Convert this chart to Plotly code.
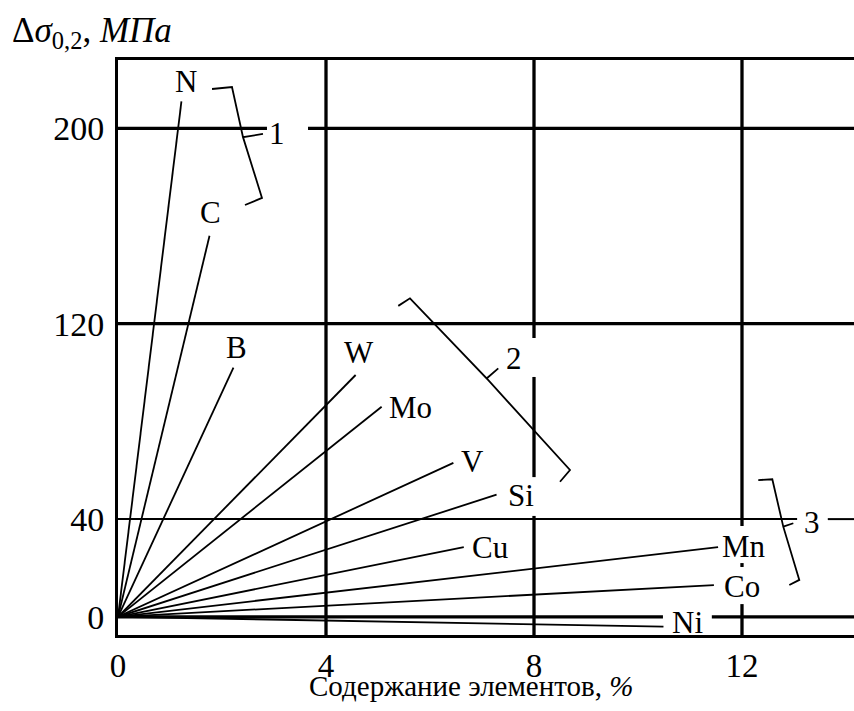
import plotly.graph_objects as go

# ---- data ----
elements = ["N", "C", "B", "W", "Mo", "V", "Si", "Cu", "Mn", "Co", "Ni"]
content_end = [1.22, 1.76, 2.22, 4.57, 5.07, 6.45, 7.28, 6.65, 11.54, 11.46, 10.49]   # %
strength_end = [211, 156, 102, 99, 86, 63, 50, 28.5, 28.5, 13, -4]                    # MPa

x_ticks = [0, 4, 8, 12]
y_ticks = [0, 40, 120, 200]
group_labels = ["1", "2", "3"]

# ---- layout helpers (positions in data units) ----
label_pos = {
    "N": (1.31, 219.0), "C": (1.77, 165.7), "B": (2.27, 110.1), "W": (4.64, 108.1),
    "Mo": (5.62, 85.7), "V": (6.81, 63.4), "Si": (7.75, 49.8), "Cu": (7.15, 28.2),
    "Mn": (12.04, 28.6), "Co": (12.0, 12.6), "Ni": (10.96, -2.5),
}
group_pos = [(3.06, 197.7), (7.62, 105.6), (13.35, 38.8)]
brackets = [
    ([1.808, 2.192, 2.404, 2.788, 2.404, 2.769, 2.442],
     [216.1, 216.9, 196.4, 197.7, 196.4, 171.5, 168.6]),
    ([5.390, 5.615, 7.090, 7.313, 7.090, 8.692, 8.500],
     [127.3, 130.4, 97.6, 101.7, 97.6, 60.1, 55.3]),
    ([12.313, 12.583, 12.794, 12.987, 12.794, 13.102, 12.910],
     [56.0, 56.3, 36.9, 38.3, 36.9, 15.1, 13.0]),
]

XMAX = 14.154
YMIN, YMAX = -7.45, 227.97

# gridline segments (with the gaps left for labels)
h_grid = [  # (y, x0, x1, width)
    (200, 0, 2.865, 3.3), (200, 3.654, XMAX, 3.3),
    (120, 0, XMAX, 3.3),
    (40, 0, 13.06, 2.0), (40, 13.65, XMAX, 2.0),
    (0, 0, 10.48, 3.3), (0, 11.42, XMAX, 3.3),
]
v_grid = [  # (x, y0, y1, width)
    (4, YMIN, YMAX, 3.3),
    (8, 114.2, YMAX, 3.3), (8, 57.2, 98.2, 3.3), (8, YMIN, 41.3, 3.3),
    (12, 37.2, YMAX, 3.3), (12, 20.4, 22.0, 3.3), (12, YMIN, 5.2, 3.3),
]

FONT = "Liberation Serif, Times New Roman, serif"

fig = go.Figure()

for (y, x0, x1, w) in h_grid:
    fig.add_trace(go.Scatter(x=[x0, x1], y=[y, y], mode="lines",
                             line=dict(color="black", width=w), hoverinfo="skip", showlegend=False))
for (x, y0, y1, w) in v_grid:
    fig.add_trace(go.Scatter(x=[x, x], y=[y0, y1], mode="lines",
                             line=dict(color="black", width=w), hoverinfo="skip", showlegend=False))

for name, xe, ye in zip(elements, content_end, strength_end):
    fig.add_trace(go.Scatter(x=[0, xe], y=[0, ye], mode="lines", name=name,
                             line=dict(color="black", width=1.8), showlegend=False))

for bx, by in brackets:
    fig.add_trace(go.Scatter(x=bx, y=by, mode="lines",
                             line=dict(color="black", width=1.8), hoverinfo="skip", showlegend=False))

annotations = []
for name in elements:
    lx, ly = label_pos[name]
    annotations.append(dict(x=lx, y=ly, text=name, showarrow=False, xref="x", yref="y",
                            xanchor="center", yanchor="middle",
                            font=dict(family=FONT, size=31, color="black")))
for g, (gx, gy) in zip(group_labels, group_pos):
    annotations.append(dict(x=gx, y=gy, text=g, showarrow=False, xref="x", yref="y",
                            xanchor="center", yanchor="middle",
                            font=dict(family=FONT, size=31, color="black")))

annotations.append(dict(x=6.79, y=-0.088, xref="x", yref="paper", showarrow=False,
                        text="Содержание элементов, <i>%</i>", xanchor="center", yanchor="middle",
                        font=dict(family=FONT, size=29, color="black")))
annotations.append(dict(x=-0.1467, y=1.047, xref="paper", yref="paper", showarrow=False,
                        text="Δ<i>σ</i><sub>0,2</sub>, <i>МПа</i>", xanchor="left", yanchor="middle",
                        font=dict(family=FONT, size=35, color="black")))

fig.update_layout(
    width=854, height=711,
    margin=dict(l=118, r=0, t=60, b=76),
    paper_bgcolor="white", plot_bgcolor="white",
    annotations=annotations,
    xaxis=dict(range=[0, XMAX], tickvals=x_ticks, ticktext=[str(v) for v in x_ticks],
               showgrid=False, zeroline=False, showline=True, linecolor="black", linewidth=2.7,
               mirror=True, ticks="", ticklabelstandoff=0,
               tickfont=dict(family=FONT, size=33, color="black")),
    yaxis=dict(range=[YMIN, YMAX], tickvals=y_ticks, ticktext=[str(v) for v in y_ticks],
               showgrid=False, zeroline=False, showline=True, linecolor="black", linewidth=2.7,
               ticks="", ticklabelstandoff=4,
               tickfont=dict(family=FONT, size=34, color="black")),
)

fig.write_html("out.html", config={"displayModeBar": False},
               post_script="document.body.style.margin='0';document.body.style.padding='0';")
